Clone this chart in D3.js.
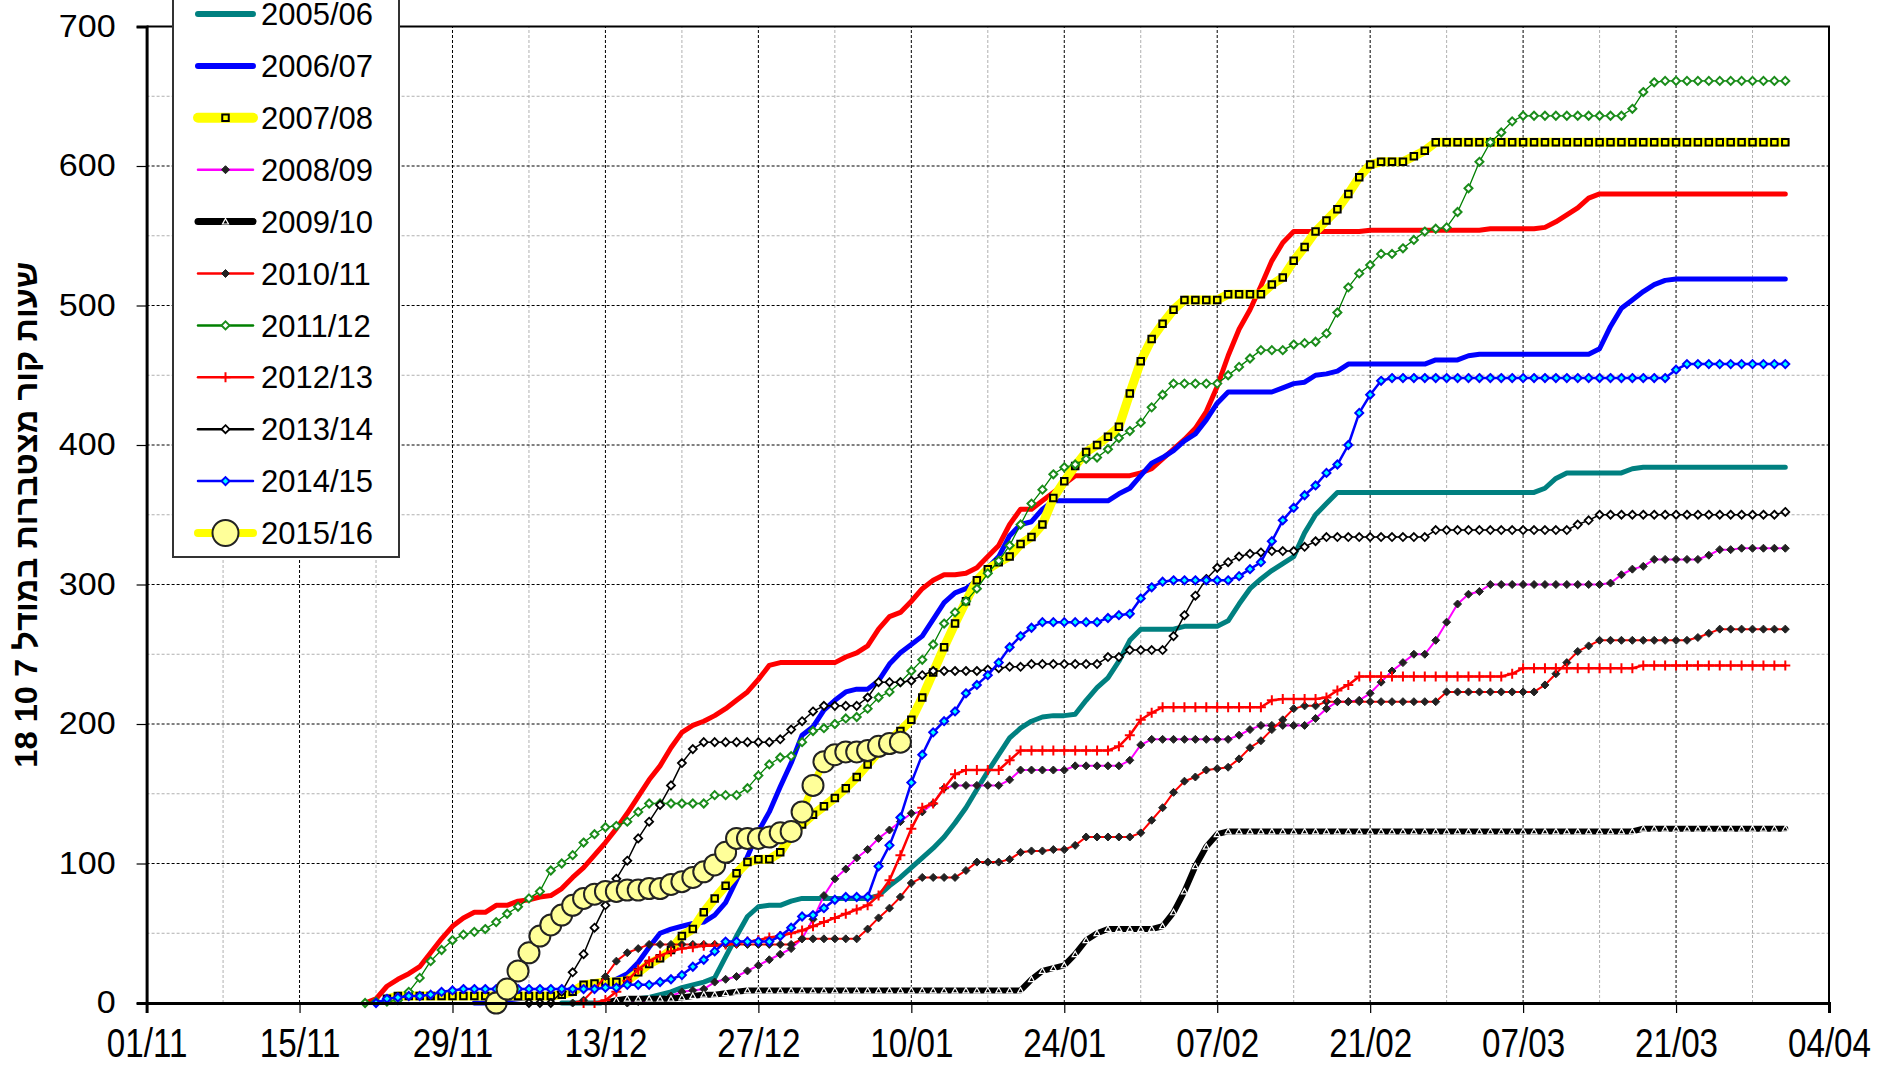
<!DOCTYPE html>
<html>
<head>
<meta charset="utf-8">
<script src="https://cdn.jsdelivr.net/npm/d3@7"></script>
<style>
  body { margin: 0; background: #fff; }
  svg { display: block; font-family: "Liberation Sans", Arial, sans-serif; }
</style>
</head>
<body>
<svg id="chart" width="1884" height="1067"></svg>
<script>
// season names, in drawing order (2004/05 has no visible legend row)
const seasons = ['2004/05', '2005/06', '2006/07', '2007/08', '2008/09', '2009/10',
  '2010/11', '2011/12', '2012/13', '2013/14', '2014/15', '2015/16'];

// first day of each daily series (dd/mm)
const starts = ['21/11', '09/12', '01/12', '23/11', '15/12', '13/12',
  '10/12', '21/11', '11/12', '06/12', '22/11', '03/12'];

// x tick labels, every 14 days
const tickLabels = ['01/11', '15/11', '29/11', '13/12', '27/12', '10/01', '24/01',
  '07/02', '21/02', '07/03', '21/03', '04/04'];
const yTicks = [0, 100, 200, 300, 400, 500, 600, 700];

// accumulated chill hours, one value per day
const v0405 = [0, 3, 12, 17, 21, 26, 36, 46, 55, 61,
  65, 65, 70, 70, 73, 74, 76, 77, 82, 90,
  97, 106, 115, 125, 136, 148, 160, 170, 183, 194,
  199, 202, 206, 211, 217, 223, 232, 242, 244, 244,
  244, 244, 244, 244, 248, 251, 256, 268, 277, 280,
  288, 297, 303, 307, 307, 308, 312, 320, 328, 343,
  354, 354, 360, 366, 372, 378, 378, 378, 378, 378,
  378, 380, 383, 390, 397, 404, 412, 424, 442, 464,
  483, 497, 514, 532, 545, 553, 553, 553, 553, 553,
  553, 553, 554, 554, 554, 554, 554, 554, 554, 554,
  554, 554, 554, 555, 555, 555, 555, 555, 556, 560,
  565, 570, 577, 580, 580, 580, 580, 580, 580, 580,
  580, 580, 580, 580, 580, 580, 580, 580, 580, 580, 580];

const v0506 = [0, 0,
  0, 0, 0, 1, 2, 3, 4, 6, 8, 11,
  13, 15, 18, 33, 48, 62, 69, 70, 70, 73,
  75, 75, 75, 75, 75, 75, 75, 77, 84, 90,
  97, 104, 111, 119, 129, 140, 153, 166, 178, 190,
  197, 202, 205, 206, 206, 207, 217, 226, 233, 245,
  260, 268, 268, 268, 268, 270, 270, 270, 270, 274,
  286, 297, 304, 310, 315, 320, 337, 350, 358, 366,
  366, 366, 366, 366, 366, 366, 366, 366, 366, 366,
  366, 366, 366, 366, 366, 366, 366, 366, 369, 376,
  380, 380, 380, 380, 380, 380, 383, 384, 384, 384,
  384, 384, 384, 384, 384, 384, 384, 384, 384, 384, 384];

const v0607 = [0, 0, 1, 2, 3, 4, 5, 6, 7, 9,
  12, 14, 15, 17, 21, 29, 40, 50, 53, 55,
  57, 58, 63, 72, 88, 105, 123, 137, 155, 172,
  192, 198, 210, 217, 223, 225, 225, 231, 243, 251,
  257, 263, 275, 287, 294, 297, 303, 312, 320, 335,
  343, 345, 354, 360, 360, 360, 360, 360, 360, 365,
  369, 378, 387, 391, 396, 403, 408, 418, 430, 438,
  438, 438, 438, 438, 441, 444, 445, 450, 451, 453,
  458, 458, 458, 458, 458, 458, 458, 458, 461, 461,
  461, 464, 465, 465, 465, 465, 465, 465, 465, 465,
  465, 465, 465, 469, 485, 498, 504, 510, 515, 518,
  519, 519, 519, 519, 519, 519, 519, 519, 519, 519, 519];

const v0708 = [3, 5, 5, 5, 5, 5, 5, 5,
  5, 5, 5, 5, 5, 5, 5, 5, 6, 8,
  13, 14, 15, 15, 16, 22, 28, 32, 38, 48,
  53, 65, 75, 84, 93, 101, 103, 103, 108, 120,
  128, 135, 141, 147, 154, 162, 171, 180, 188, 195,
  203, 219, 237, 255, 272, 288, 303, 311, 316, 320,
  329, 334, 343, 362, 374, 385, 395, 400, 406, 413,
  437, 460, 476, 487, 497, 504, 504, 504, 504, 508,
  508, 508, 508, 515, 520, 532, 542, 553, 561, 569,
  580, 592, 601, 603, 603, 603, 607, 611, 617, 617,
  617, 617, 617, 617, 617, 617, 617, 617, 617, 617,
  617, 617, 617, 617, 617, 617, 617, 617, 617, 617,
  617, 617, 617, 617, 617, 617, 617, 617, 617, 617, 617];

const v0809 = [0, 1, 2, 3, 5, 8,
  9, 10, 15, 17, 19, 23, 27, 31, 35, 39,
  46, 60, 77, 89, 96, 104, 110, 118, 124, 130,
  136, 137, 143, 154, 156, 156, 156, 156, 156, 160,
  167, 167, 167, 167, 167, 170, 170, 170, 170, 170,
  174, 185, 189, 189, 189, 189, 189, 189, 189, 189,
  192, 196, 199, 199, 199, 199, 199, 204, 211, 216,
  216, 217, 222, 230, 238, 244, 250, 250, 260, 273,
  286, 293, 295, 300, 300, 300, 300, 300, 300, 300,
  300, 300, 300, 300, 301, 307, 311, 313, 318, 318,
  318, 318, 318, 321, 325, 325, 326, 326, 326, 326, 326];

const v0910 = [0, 2, 3, 3, 3, 3, 3, 4,
  5, 6, 6, 7, 8, 9, 9, 9, 9, 9,
  9, 9, 9, 9, 9, 9, 9, 9, 9, 9,
  9, 9, 9, 9, 9, 9, 9, 9, 9, 9,
  9, 17, 23, 25, 27, 35, 45, 50, 53, 53,
  53, 53, 53, 55, 65, 80, 98, 112, 121, 123,
  123, 123, 123, 123, 123, 123, 123, 123, 123, 123,
  123, 123, 123, 123, 123, 123, 123, 123, 123, 123,
  123, 123, 123, 123, 123, 123, 123, 123, 123, 123,
  123, 123, 123, 123, 123, 123, 123, 125, 125, 125,
  125, 125, 125, 125, 125, 125, 125, 125, 125, 125, 125];

const v1011 = [0,
  2, 10, 19, 30, 36, 39, 42, 42, 42, 42,
  42, 42, 42, 42, 42, 42, 42, 42, 42, 42,
  46, 46, 46, 46, 46, 46, 53, 61, 68, 76,
  86, 90, 90, 90, 90, 95, 101, 101, 101, 103,
  108, 109, 109, 110, 110, 113, 119, 119, 119, 119,
  119, 122, 131, 140, 151, 159, 162, 167, 168, 169,
  175, 183, 188, 196, 203, 211, 213, 213, 216, 216,
  216, 216, 216, 216, 216, 216, 216, 216, 216, 223,
  223, 223, 223, 223, 223, 223, 223, 223, 228, 236,
  244, 252, 256, 260, 260, 260, 260, 260, 260, 260,
  260, 260, 262, 265, 268, 268, 268, 268, 268, 268, 268];

const v1112 = [0, 1, 1, 2, 8, 18, 30, 38, 45, 49,
  51, 53, 58, 64, 69, 75, 80, 95, 100, 106,
  115, 121, 126, 127, 130, 137, 143, 143, 143, 143,
  143, 143, 149, 149, 149, 154, 163, 171, 176, 177,
  187, 195, 197, 200, 204, 205, 211, 219, 223, 230,
  238, 246, 257, 272, 280, 288, 297, 308, 317, 328,
  343, 358, 368, 379, 384, 386, 390, 391, 397, 405,
  410, 416, 427, 436, 444, 444, 444, 444, 444, 450,
  456, 462, 468, 468, 468, 472, 473, 474, 480, 495,
  513, 523, 529, 537, 537, 541, 547, 553, 555, 556,
  567, 584, 603, 617, 624, 632, 636, 636, 636, 636,
  636, 636, 636, 636, 636, 636, 641, 653, 660, 661,
  661, 661, 661, 661, 661, 661, 661, 661, 661, 661, 661];

const v1213 = [0, 0, 2, 8, 16, 24, 30, 34, 37, 39,
  40, 41, 41, 42, 43, 44, 45, 47, 48, 50,
  52, 55, 58, 61, 64, 67, 70, 77, 88, 106,
  125, 140, 143, 154, 164, 167, 167, 167, 167, 174,
  181, 181, 181, 181, 181, 181, 181, 181, 181, 184,
  192, 203, 208, 212, 212, 212, 212, 212, 212, 212,
  212, 212, 212, 217, 218, 218, 218, 218, 219, 224,
  228, 234, 234, 234, 234, 234, 234, 234, 234, 234,
  234, 234, 234, 234, 234, 236, 240, 240, 240, 240,
  240, 240, 240, 240, 240, 240, 240, 242, 242, 242,
  242, 242, 242, 242, 242, 242, 242, 242, 242, 242, 242];

const v1314 = [0, 0, 0, 8, 22,
  35, 54, 70, 89, 102, 118, 130, 142, 156, 172,
  182, 187, 187, 187, 187, 187, 187, 187, 189, 196,
  202, 209, 213, 213, 213, 213, 219, 230, 230, 230,
  231, 235, 238, 238, 238, 238, 238, 239, 240, 241,
  241, 243, 243, 243, 243, 243, 243, 243, 248, 248,
  253, 253, 253, 253, 263, 278, 292, 304, 312, 316,
  320, 322, 323, 324, 324, 324, 327, 331, 334, 334,
  334, 334, 334, 334, 334, 334, 334, 334, 339, 339,
  339, 339, 339, 339, 339, 339, 339, 339, 339, 339,
  339, 343, 346, 350, 350, 350, 350, 350, 350, 350,
  350, 350, 350, 350, 350, 350, 350, 350, 350, 350, 352];

const v1415 = [0, 3, 4, 5, 5, 6, 8, 9, 10,
  10, 10, 10, 10, 10, 10, 10, 10, 10, 10,
  10, 10, 11, 11, 13, 13, 13, 15, 17, 20,
  26, 31, 37, 44, 44, 44, 44, 44, 48, 54,
  62, 63, 68, 74, 76, 76, 76, 98, 113, 133,
  158, 178, 194, 202, 209, 222, 228, 235, 244, 255,
  263, 269, 273, 273, 273, 273, 273, 273, 276, 278,
  279, 290, 298, 302, 303, 303, 303, 303, 303, 303,
  306, 311, 316, 331, 346, 355, 364, 371, 380, 386,
  400, 423, 436, 446, 448, 448, 448, 448, 448, 448,
  448, 448, 448, 448, 448, 448, 448, 448, 448, 448,
  448, 448, 448, 448, 448, 448, 448, 448, 448, 448,
  454, 458, 458, 458, 458, 458, 458, 458, 458, 458, 458];

const v1516 = [0, 10, 23, 36, 48, 56, 63, 70, 75, 78,
  80, 80, 81, 81, 82, 82, 85, 87, 90, 94,
  99, 108, 118, 118, 118, 119, 122, 123, 137, 156,
  173, 178, 180, 180, 181, 184, 186, 187];

const values = [v0405, v0506, v0607, v0708, v0809, v0910,
  v1011, v1112, v1213, v1314, v1415, v1516];

// line and marker look per season
const styles = {
  '2004/05': { color: '#ff0000', width: 5 },
  '2005/06': { color: '#008080', width: 5 },
  '2006/07': { color: '#0000ff', width: 5 },
  '2007/08': { color: '#ffff00', width: 9, marker: 'square', mSize: 6.5, mFill: '#ffff00', mStroke: '#000', mWidth: 2 },
  '2008/09': { color: '#ff00ff', width: 2, marker: 'diamond', mSize: 8, mFill: '#222', mStroke: '#222', mWidth: 1 },
  '2009/10': { color: '#000', width: 6, marker: 'triangle', mSize: 6, mFill: '#000', mStroke: '#fff', mWidth: 1.2 },
  '2010/11': { color: '#ff0000', width: 2, marker: 'diamond', mSize: 8, mFill: '#222', mStroke: '#222', mWidth: 1 },
  '2011/12': { color: '#008000', width: 1.3, marker: 'diamond', mSize: 8, mFill: '#fff', mStroke: '#1a8c1a', mWidth: 2 },
  '2012/13': { color: '#ff0000', width: 2.5, marker: 'plus', mSize: 10, mFill: 'none', mStroke: '#ff0000', mWidth: 2 },
  '2013/14': { color: '#000', width: 1.5, marker: 'diamond', mSize: 8, mFill: '#fff', mStroke: '#000', mWidth: 1.8 },
  '2014/15': { color: '#0000ff', width: 2.5, marker: 'diamond', mSize: 8, mFill: '#00ffff', mStroke: '#0000ff', mWidth: 2 },
  '2015/16': { color: '#ffff00', width: 7, marker: 'circle', mSize: 21, mFill: '#ffff99', mStroke: '#222', mWidth: 2 }
};

const width = 1884;
const height = 1067;
const margin = { top: 26.5, right: 55, bottom: 64, left: 146.6 };

const parseDay = (s) => {
  const [dd, mm] = s.split('/').map(Number);
  return new Date(Date.UTC(mm >= 9 ? 2014 : 2015, mm - 1, dd));
};

const t0 = parseDay(tickLabels[0]);
const t1 = parseDay(tickLabels[tickLabels.length - 1]);

const x = d3.scaleUtc().domain([t0, t1]).range([margin.left, width - margin.right]);
const y = d3.scaleLinear().domain([0, 700]).range([height - margin.bottom, margin.top]);

const series = seasons.map((name, i) => {
  const s = parseDay(starts[i]);
  return {
    name,
    points: values[i].map((v, k) => ({ date: d3.utcDay.offset(s, k), value: v }))
  };
});

const svg = d3.select('#chart');
svg.append('rect').attr('width', width).attr('height', height).attr('fill', '#fff');

// grid
const majorDays = tickLabels.map(parseDay);
const minorDays = majorDays.slice(0, -1).map((d) => d3.utcDay.offset(d, 7));
const grid = svg.append('g');
grid.selectAll('.vmin').data(minorDays).join('line')
  .attr('x1', (d) => x(d)).attr('x2', (d) => x(d))
  .attr('y1', y(0)).attr('y2', y(700))
  .attr('stroke', '#b0b0b0').attr('stroke-width', 1).attr('stroke-dasharray', '3,2');
grid.selectAll('.hmin').data(d3.range(50, 700, 100)).join('line')
  .attr('x1', x(t0)).attr('x2', x(t1))
  .attr('y1', (d) => y(d)).attr('y2', (d) => y(d))
  .attr('stroke', '#b0b0b0').attr('stroke-width', 1).attr('stroke-dasharray', '3,2');
grid.selectAll('.vmaj').data(majorDays.slice(1, -1)).join('line')
  .attr('x1', (d) => x(d)).attr('x2', (d) => x(d))
  .attr('y1', y(0)).attr('y2', y(700))
  .attr('stroke', '#000').attr('stroke-width', 1).attr('stroke-dasharray', '3,2');
grid.selectAll('.hmaj').data(yTicks.slice(1, -1)).join('line')
  .attr('x1', x(t0)).attr('x2', x(t1))
  .attr('y1', (d) => y(d)).attr('y2', (d) => y(d))
  .attr('stroke', '#000').attr('stroke-width', 1).attr('stroke-dasharray', '3,2');

// plot frame (top and right)
svg.append('path')
  .attr('d', `M${x(t0)},${y(700)}H${x(t1)}V${y(0)}`)
  .attr('fill', 'none').attr('stroke', '#000').attr('stroke-width', 2);

function markerPath(type, size) {
  const h = size / 2;
  if (type === 'square') return `M${-h},${-h}H${h}V${h}H${-h}Z`;
  if (type === 'diamond') return `M0,${-h}L${h},0L0,${h}L${-h},0Z`;
  if (type === 'plus') return `M${-h},0H${h}M0,${-h}V${h}`;
  if (type === 'triangle') return `M0,${-h}L${h},${h * 0.8}L${-h},${h * 0.8}Z`;
  return d3.symbol(d3.symbolCircle, Math.PI * h * h)();
}

const line = d3.line().x((d) => x(d.date)).y((d) => y(d.value));

const plot = svg.append('g');
series.forEach((s) => {
  const st = styles[s.name];
  const g = plot.append('g');
  g.append('path')
    .datum(s.points)
    .attr('d', line)
    .attr('fill', 'none')
    .attr('stroke', st.color)
    .attr('stroke-width', st.width)
    .attr('stroke-linejoin', 'round')
    .attr('stroke-linecap', 'round');
  if (st.marker) {
    g.selectAll('path.m').data(s.points).join('path')
      .attr('class', 'm')
      .attr('transform', (d) => `translate(${x(d.date)},${y(d.value)})`)
      .attr('d', markerPath(st.marker, st.mSize))
      .attr('fill', st.mFill)
      .attr('stroke', st.mStroke)
      .attr('stroke-width', st.mWidth);
  }
});

// axes
const xAxis = d3.axisBottom(x)
  .tickValues(majorDays)
  .tickFormat((d, i) => tickLabels[i])
  .tickSize(10)
  .tickPadding(16);
const gx = svg.append('g')
  .attr('transform', `translate(0,${y(0)})`)
  .call(xAxis);
gx.select('.domain').attr('stroke-width', 3);
gx.selectAll('.tick line').attr('stroke-width', 1.2);
gx.selectAll('.tick text')
  .attr('font-size', 40)
  .attr('font-family', '"Liberation Sans", Arial, sans-serif')
  .attr('fill', '#000')
  .attr('transform', 'scale(0.83,1)');

const yAxis = d3.axisLeft(y)
  .tickValues(yTicks)
  .tickSize(10)
  .tickPadding(21);
const gy = svg.append('g')
  .attr('transform', `translate(${x(t0)},0)`)
  .call(yAxis);
gy.select('.domain').attr('stroke-width', 3);
gy.selectAll('.tick line').attr('stroke-width', 1.2);
gy.selectAll('.tick text')
  .attr('font-size', 31)
  .attr('font-family', '"Liberation Sans", Arial, sans-serif')
  .attr('fill', '#000')
  .attr('x', 0)
  .attr('transform', 'translate(-31,0) scale(1.1,1)');

// y title
svg.append('text')
  .attr('transform', `translate(37,${(y(0) + y(700)) / 2}) rotate(-90)`)
  .attr('text-anchor', 'middle')
  .attr('direction', 'rtl')
  .attr('font-size', 32)
  .attr('font-weight', 'bold')
  .attr('textLength', 506)
  .attr('lengthAdjust', 'spacingAndGlyphs')
  .attr('font-family', '"Liberation Sans", "DejaVu Sans", sans-serif')
  .text('שעות קור מצטברות במודל 7 10 18');

// legend (box runs above the picture, as in the source)
const legend = svg.append('g');
legend.append('rect')
  .attr('x', 173).attr('y', -80).attr('width', 226).attr('height', 637)
  .attr('fill', '#fff').attr('stroke', '#333').attr('stroke-width', 2);
const rowY = d3.scaleLinear().domain([1, 11]).range([14, 533]);
seasons.forEach((name, i) => {
  if (rowY(i) < 0) return;
  const st = styles[name];
  const g = legend.append('g').attr('transform', `translate(0,${rowY(i)})`);
  g.append('line')
    .attr('x1', 198).attr('x2', 253)
    .attr('stroke', st.color)
    .attr('stroke-width', Math.max(st.width, 2.5) + (st.width >= 5 ? 1 : 0))
    .attr('stroke-linecap', 'round');
  if (st.marker) {
    g.append('path')
      .attr('transform', 'translate(225.5,0)')
      .attr('d', markerPath(st.marker, st.marker === 'circle' ? 26 : st.mSize))
      .attr('fill', st.mFill)
      .attr('stroke', st.mStroke)
      .attr('stroke-width', st.mWidth);
  }
  g.append('text')
    .attr('x', 261)
    .attr('dy', '0.36em')
    .attr('font-size', 31)
    .attr('fill', '#000')
    .text(name);
});
</script>
</body>
</html>
